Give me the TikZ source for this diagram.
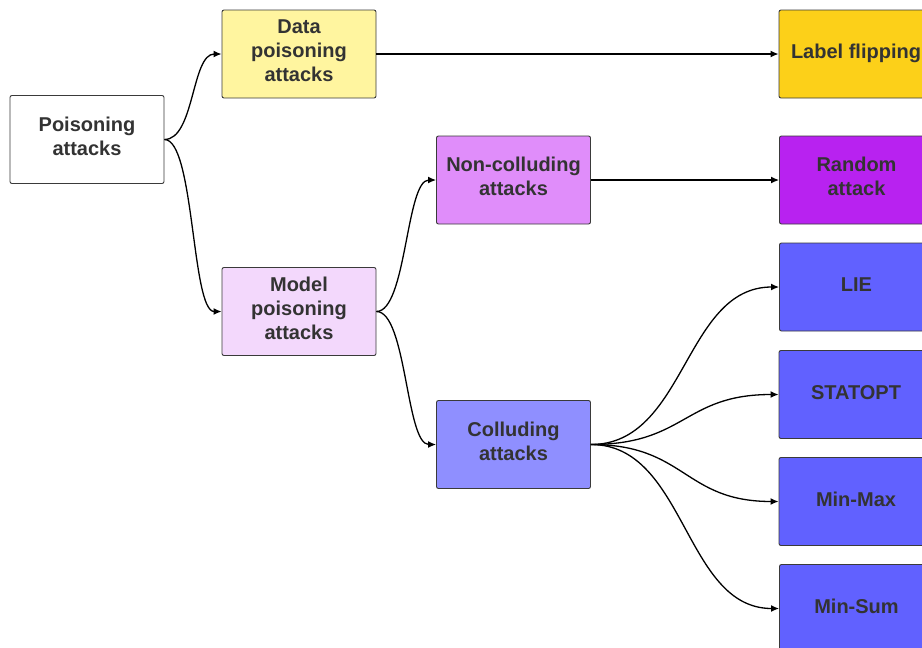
\documentclass[tikz,border=0pt]{standalone}
\usepackage{fontspec}
\setmainfont{Liberation Sans}
\usetikzlibrary{arrows.meta}
\definecolor{txt}{HTML}{333333}
\definecolor{edge}{HTML}{3A3A3A}
\definecolor{cData}{HTML}{FFF59F}
\definecolor{cGold}{HTML}{FCD019}
\definecolor{cNon}{HTML}{E08DFA}
\definecolor{cRand}{HTML}{B822F0}
\definecolor{cModel}{HTML}{F3D8FC}
\definecolor{cColl}{HTML}{8F8FFF}
\definecolor{cBlue}{HTML}{6161FF}
\tikzset{
  box/.style={draw=edge, line width=0.9pt, rounded corners=2pt, minimum width=154pt, minimum height=88pt,
    inner sep=0pt, align=center, text=txt, font=\fontsize{20}{24}\selectfont\bfseries,
    execute at begin node=\strut, execute at end node=\strut},
  arr/.style={-{Latex[length=8pt,width=7pt]}, line width=1.3pt, black},
}
\begin{document}
\begin{tikzpicture}[x=1pt,y=-1pt]
\useasboundingbox (0,0) rectangle (922,648);
\clip (0,0) rectangle (922,648);
\node[box, fill=white] (pois) at (87,139.5) {Poisoning\\attacks};
\node[box, fill=cData] (data) at (299,54) {Data\\poisoning\\attacks};
\node[box, fill=cGold] (label) at (856,54) {Label flipping};
\node[box, fill=cNon] (non) at (513.5,180) {Non-colluding\\attacks};
\node[box, fill=cRand] (rand) at (856.5,180) {Random\\attack};
\node[box, fill=cModel] (model) at (299,311.5) {Model\\poisoning\\attacks};
\node[box, fill=cColl] (coll) at (513.5,444.5) {Colluding\\attacks};
\node[box, fill=cBlue] (lie) at (856.5,287) {LIE};
\node[box, fill=cBlue] (stat) at (856,394.5) {STATOPT};
\node[box, fill=cBlue] (mmax) at (856,501.5) {Min-Max};
\node[box, fill=cBlue] (msum) at (856.5,608.5) {Min-Sum};

\draw[arr] (pois.east) .. controls +(30,0) and +(-30,0) .. (data.west);
\draw[arr] (pois.east) .. controls +(30,0) and +(-30,0) .. (model.west);
\draw[arr] (data.east) -- (label.west);
\draw[arr] (model.east) .. controls +(30,0) and +(-30,0) .. (non.west);
\draw[arr] (model.east) .. controls +(30,0) and +(-30,0) .. (coll.west);
\draw[arr] (non.east) -- (rand.west);
\draw[arr] (coll.east) .. controls +(95,0) and +(-95,0) .. (lie.west);
\draw[arr] (coll.east) .. controls +(95,0) and +(-95,0) .. (stat.west);
\draw[arr] (coll.east) .. controls +(95,0) and +(-95,0) .. (mmax.west);
\draw[arr] (coll.east) .. controls +(95,0) and +(-95,0) .. (msum.west);
\end{tikzpicture}
\end{document}
